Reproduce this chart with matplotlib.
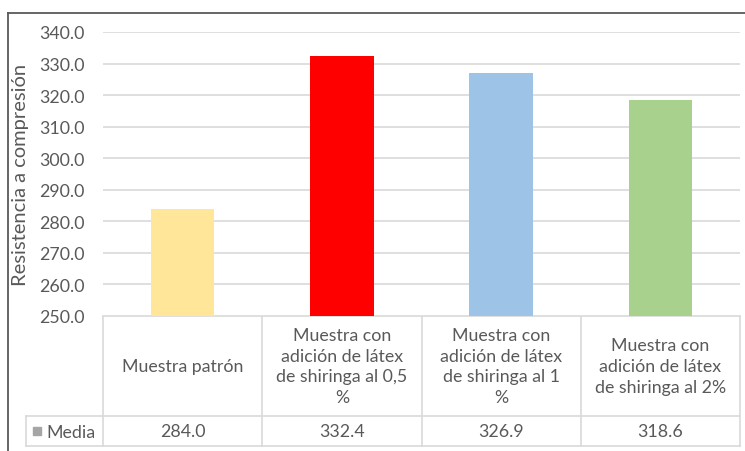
import matplotlib.pyplot as plt
import numpy as np

plt.rcParams['font.family'] = ['Lato', 'DejaVu Sans']

# datos
categorias = [
    "Muestra patrón",
    "Muestra con\nadición de látex\nde shiringa al 0,5\n%",
    "Muestra con\nadición de látex\nde shiringa al 1\n%",
    "Muestra con\nadición de látex\nde shiringa al 2%",
]
media = [284.0, 332.4, 326.9, 318.6]
colores = ["#FFE699", "#FF0000", "#9DC3E6", "#A9D18E"]
serie = "Media"
y_ticks = [250, 260, 270, 280, 290, 300, 310, 320, 330, 340]
y_label = "Resistencia a compresión"

W, H = 745, 452
GRIS = "#595959"
LINEA = "#D9D9D9"
FS = 12.8


def caja(x0, y0, x1, y1):
    # pixel box (top-left origin) -> figure fraction
    return [x0 / W, 1 - y1 / H, (x1 - x0) / W, (y1 - y0) / H]


fig = plt.figure(figsize=(W / 100, H / 100), dpi=100)

ax = fig.add_axes(caja(103, 33, 740, 317))
x = np.arange(len(media))
ax.bar(x, media, width=0.4, color=colores, zorder=3)
ax.set_xlim(-0.5, len(media) - 0.5)
ax.set_ylim(y_ticks[0], y_ticks[-1])
ax.set_yticks(y_ticks)
ax.set_yticklabels([f"{v:.1f}" for v in y_ticks], color=GRIS, fontsize=FS)
ax.set_xticks([])
ax.tick_params(axis="y", length=0, pad=13)
ax.yaxis.grid(True, color=LINEA, lw=1.2, zorder=0)
for s in ax.spines.values():
    s.set_visible(False)

# capa de píxeles para la tabla de datos y el marco
tab = fig.add_axes([0, 0, 1, 1], zorder=-1)
tab.set_xlim(0, W)
tab.set_ylim(H, 0)
tab.axis("off")
tab.patch.set_alpha(0)

fig.canvas.draw()
bordes = [ax.transData.transform((i - 0.5, y_ticks[0]))[0] for i in range(len(media) + 1)]

y_top, y_mid, y_bot = 317, 417, 447
x_leg = 26
tab.plot([bordes[0], bordes[-1]], [y_top, y_top], color=LINEA, lw=1.2)
for yy in (y_mid, y_bot):
    tab.plot([x_leg, bordes[-1]], [yy, yy], color=LINEA, lw=1.2)
for xx in bordes:
    tab.plot([xx, xx], [y_top, y_bot], color=LINEA, lw=1.2)
tab.plot([x_leg, x_leg], [y_mid, y_bot], color=LINEA, lw=1.2)

for i, (cat, val) in enumerate(zip(categorias, media)):
    cx = (bordes[i] + bordes[i + 1]) / 2
    tab.text(cx, (y_top + y_mid) / 2, cat, ha="center", va="center",
             color=GRIS, fontsize=FS, linespacing=1.38)
    tab.text(cx, (y_mid + y_bot) / 2, f"{val:.1f}", ha="center", va="center",
             color=GRIS, fontsize=FS)

tab.plot([37], [(y_mid + y_bot) / 2], marker="s", ms=6, color="#A5A5A5", lw=0)
tab.text(46, (y_mid + y_bot) / 2 + 1, serie, ha="left", va="center",
         color=GRIS, fontsize=FS)

tab.text(21, 175, y_label, rotation=90, ha="center", va="center",
         color=GRIS, fontsize=14.5)

# marco del gráfico
tab.plot([8, W], [14, 14], color=GRIS, lw=1.3)
tab.plot([8, 8], [14, H], color=GRIS, lw=1.3)

fig.savefig("out.png", dpi=100)
